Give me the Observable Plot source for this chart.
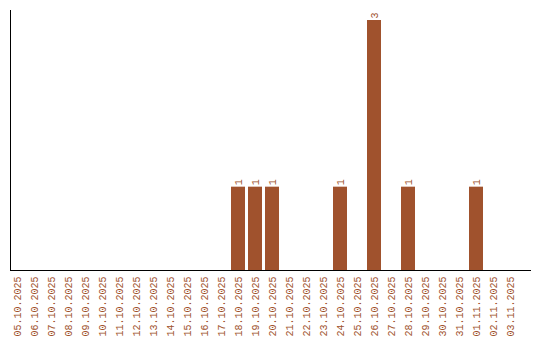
<!DOCTYPE html>
<html>
<head>
<meta charset="utf-8">
<script src="https://cdn.jsdelivr.net/npm/d3@7"></script>
<script src="https://cdn.jsdelivr.net/npm/@observablehq/plot@0.6"></script>
<style>
  html, body { margin: 0; padding: 0; background: #fff; }
</style>
</head>
<body>
<div id="chart"></div>
<script>
const dates = [
  "05.10.2025","06.10.2025","07.10.2025","08.10.2025","09.10.2025","10.10.2025",
  "11.10.2025","12.10.2025","13.10.2025","14.10.2025","15.10.2025","16.10.2025",
  "17.10.2025","18.10.2025","19.10.2025","20.10.2025","21.10.2025","22.10.2025",
  "23.10.2025","24.10.2025","25.10.2025","26.10.2025","27.10.2025","28.10.2025",
  "29.10.2025","30.10.2025","31.10.2025","01.11.2025","02.11.2025","03.11.2025"
];
const counts = [
  0,0,0,0,0,0,
  0,0,0,0,0,0,
  0,1,1,1,0,0,
  0,1,0,3,0,1,
  0,0,0,1,0,0
];
const data = dates.map((d, i) => ({date: d, count: counts[i]}));
const nonZero = data.filter(d => d.count > 0);

const color = "#a0522d";

const chart = Plot.plot({
  width: 540,
  height: 340,
  marginTop: 10,
  marginLeft: 10,
  marginRight: 10,
  marginBottom: 70,
  style: {fontFamily: "'Liberation Mono', 'Courier New', monospace", fontSize: "10px", background: "#fff"},
  x: {
    type: "band",
    domain: dates,
    range: [10, 517],
    paddingInner: 0.18,
    paddingOuter: 0,
    tickSize: 0,
    tickPadding: 6,
    tickRotate: -90,
    label: null
  },
  y: {domain: [0, 3.12], axis: null},
  marks: [
    Plot.barY(nonZero, {x: "date", y: "count", fill: color}),
    Plot.text(nonZero, {x: "date", y: "count", text: d => String(d.count), rotate: -90, textAnchor: "start", dy: -2, fill: color, fontSize: 10}),
    Plot.frame({anchor: "left", stroke: "#000"}),
    Plot.frame({anchor: "bottom", stroke: "#000"})
  ]
});
chart.querySelectorAll("g[aria-label='x-axis tick label'] text, g[aria-label='x-axis tick label']").forEach(e => e.setAttribute("fill", color));
document.getElementById("chart").appendChild(chart);
</script>
</body>
</html>
